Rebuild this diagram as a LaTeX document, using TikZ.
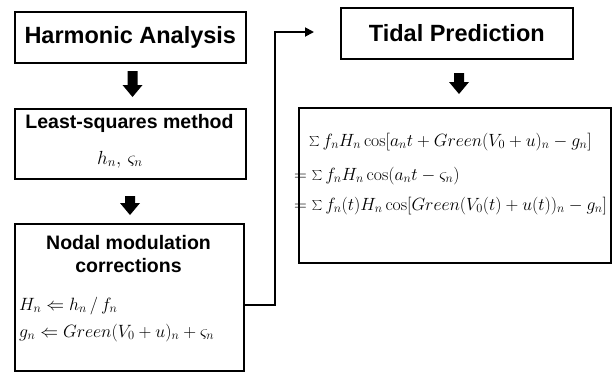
\RequirePackage{fix-cm}
\documentclass[tikz,border=0pt]{standalone}
\usepackage{fontspec}
\newfontfamily\hdfont{Liberation Sans}
\usetikzlibrary{arrows.meta}
\tikzset{
  box/.style={draw=black, line width=1.6pt, inner sep=0pt, anchor=north west},
  bighead/.style={font=\hdfont\bfseries\fontsize{23.5}{28}\selectfont},
  smallhead/.style={font=\hdfont\bfseries\fontsize{19.5}{23}\selectfont},
  eq/.style={anchor=base west, inner sep=0pt},
  predeq/.style={eq, font=\fontsize{17.7}{21}\selectfont},
  nodaleq/.style={eq, font=\fontsize{17.8}{21}\selectfont},
  blockarrow/.style={fill=black},
  flow/.style={draw=black, line width=1.8pt, -{Triangle[length=9pt, width=9pt]}}
}
% block arrow pointing down: centre x, top y, tip y
\newcommand{\downarrowblock}[3]{%
  \fill[blockarrow] (#1-5,#2) -- (#1+5,#2) -- (#1+5,#3-12) -- (#1+10,#3-12)
    -- (#1,#3) -- (#1-10,#3-12) -- (#1-5,#3-12) -- cycle;}
\begin{document}
\begin{tikzpicture}[x=1pt, y=-1pt]
  \useasboundingbox (0,0) rectangle (612,372);

  % left column
  \node[box, minimum width=231pt, minimum height=51pt] (harm) at (14,11) {};
  \node[bighead] (harmtxt) at (harm.center) {Harmonic Analysis};

  \node[box, minimum width=231pt, minimum height=70pt] (lsq) at (14,108) {};
  \node[smallhead] (lsqtxt) at (129.5,123) {Least-squares method};
  \node[eq, font=\fontsize{19}{22}\selectfont] (lsqeq) at (97,164) {$h_n,\,\varsigma_n$};

  \node[box, minimum width=229pt, minimum height=147pt] (nodal) at (14,223) {};
  \node[smallhead] (nodaltxta) at (128.5,243) {Nodal modulation};
  \node[smallhead] (nodaltxtb) at (128.5,266) {corrections};
  \node[nodaleq] (eqH) at (19,310) {$H_n \Leftarrow h_n \,/\, f_n$};
  \node[nodaleq] (eqg) at (19,337) {$g_n \Leftarrow Green(V_0+u)_n+\varsigma_n$};

  % right column
  \node[box, minimum width=232pt, minimum height=51pt] (tidal) at (340,7) {};
  \node[bighead] (tidaltxt) at (tidal.center) {Tidal Prediction};

  \node[box, minimum width=312pt, minimum height=155pt] (pred) at (298,107) {};
  \node[predeq] (predA) at (309,146) {$\sum f_n H_n \cos[a_n t+Green(V_0+u)_n-g_n]$};
  \node[predeq] (predB) at (294,180) {$=\sum f_n H_n \cos(a_n t-\varsigma_n)$};
  \node[predeq] (predC) at (294,210) {$=\sum f_n(t) H_n \cos[Green(V_0(t)+u(t))_n-g_n]$};

  % block arrows between stages
  \downarrowblock{132.5}{71}{97}
  \downarrowblock{130}{196}{215}
  \downarrowblock{459}{73}{94}

  % connector from the corrections to the prediction
  \coordinate (tip) at (314,32);
  \draw[flow] (nodal.east |- 0,305) -- (275,305) -- (275,32) -- (tip);
\end{tikzpicture}
\end{document}
